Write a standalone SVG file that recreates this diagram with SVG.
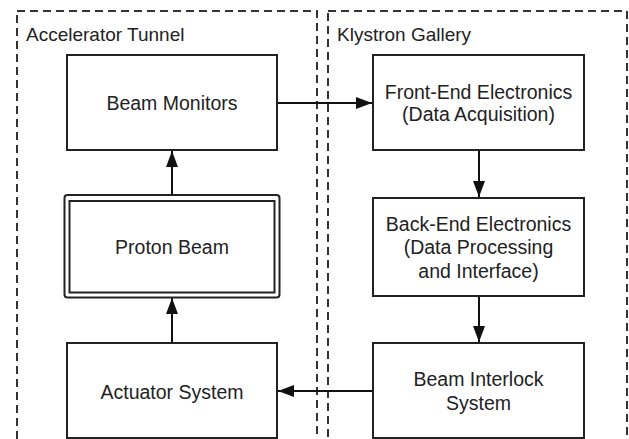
<svg xmlns="http://www.w3.org/2000/svg" width="629" height="439" viewBox="0 0 629 439">
<style>
.cont{fill:none;stroke:#333;stroke-width:2;stroke-dasharray:8 5}
.box{fill:#fff;stroke:#222;stroke-width:2}
.lbl{font-family:"Liberation Sans",Arial,sans-serif;font-size:19px;fill:#222}
.t{font-family:"Liberation Sans",Arial,sans-serif;font-size:19.5px;fill:#222;text-anchor:middle}
.edge{fill:none;stroke:#111;stroke-width:2}
</style>
<defs>
<marker id="arr" viewBox="0 0 10 10" refX="10" refY="5" markerWidth="16" markerHeight="12" markerUnits="userSpaceOnUse" orient="auto" preserveAspectRatio="none">
<path d="M0,0 L10,5 L0,10 z" fill="#111"/>
</marker>
</defs>
<rect width="629" height="439" fill="#fff"/>
<g id="accelerator-tunnel">
<rect class="cont" x="17" y="11" width="300" height="460"/>
<text class="lbl" x="26" y="41">Accelerator Tunnel</text>
</g>
<g id="klystron-gallery">
<rect class="cont" x="328" y="11" width="299" height="460"/>
<text class="lbl" x="337" y="41">Klystron Gallery</text>
</g>
<g id="connectors">
<line class="edge" x1="277" y1="103" x2="372" y2="103" marker-end="url(#arr)"/>
<line class="edge" x1="479" y1="150" x2="479" y2="197" marker-end="url(#arr)"/>
<line class="edge" x1="479" y1="296" x2="479" y2="342" marker-end="url(#arr)"/>
<line class="edge" x1="373" y1="391" x2="278" y2="391" marker-end="url(#arr)"/>
<line class="edge" x1="172" y1="343" x2="172" y2="298" marker-end="url(#arr)"/>
<line class="edge" x1="172" y1="195" x2="172" y2="151" marker-end="url(#arr)"/>
</g>
<g id="beam-monitors">
<rect class="box" x="67" y="55" width="210" height="95"/>
<text class="t" x="172" y="110">Beam Monitors</text>
</g>
<g id="proton-beam">
<rect class="box" x="64.5" y="195" width="215" height="102.5" rx="3"/>
<rect class="box" x="69.5" y="201" width="205" height="91.5"/>
<text class="t" x="172" y="254">Proton Beam</text>
</g>
<g id="actuator-system">
<rect class="box" x="67" y="343" width="210" height="95"/>
<text class="t" x="172" y="399">Actuator System</text>
</g>
<g id="front-end">
<rect class="box" x="373" y="55" width="211" height="95"/>
<text class="t" x="478.5" y="99">Front-End Electronics</text>
<text class="t" x="478.5" y="121">(Data Acquisition)</text>
</g>
<g id="back-end">
<rect class="box" x="373" y="198" width="211" height="98"/>
<text class="t" x="478.5" y="231">Back-End Electronics</text>
<text class="t" x="478.5" y="254">(Data Processing</text>
<text class="t" x="478.5" y="278">and Interface)</text>
</g>
<g id="beam-interlock">
<rect class="box" x="373" y="343" width="211" height="95"/>
<text class="t" x="478.5" y="386">Beam Interlock</text>
<text class="t" x="478.5" y="410">System</text>
</g>
</svg>
